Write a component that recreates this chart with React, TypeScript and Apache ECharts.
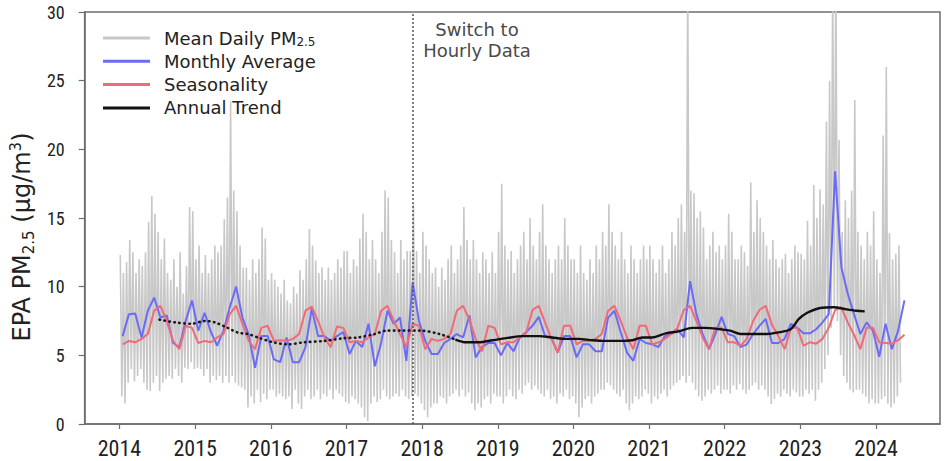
import React, { useEffect, useRef } from "react";
import * as echarts from "echarts";

// ---------- data ----------
const yearTicks = [2014, 2015, 2016, 2017, 2018, 2019, 2020, 2021, 2022, 2023, 2024];

// Daily PM2.5, summarised as one high and one low per half-month (2014-01 .. 2024-04)
const dailyHigh = [
  // 2014
  12.3, 11.0, 11.8, 13.4, 12.5, 11.0, 12.0, 11.5, 12.5, 14.7, 16.6, 15.3, 14.0, 12.0, 13.5, 11.0, 10.5, 12.0, 10.0, 12.5, 9.5, 11.5, 15.8, 15.5,
  // 2015
  12.0, 13.0, 11.0, 12.3, 11.0, 12.0, 13.0, 12.5, 13.0, 14.9, 16.5, 23.5, 17.0, 15.5, 13.0, 11.4, 11.4, 10.5, 12.0, 11.0, 12.0, 14.3, 13.5, 10.5,
  // 2016
  11.0, 10.5, 10.0, 9.5, 10.5, 9.0, 8.8, 10.0, 9.5, 11.2, 10.5, 12.0, 14.2, 13.0, 11.9, 11.0, 11.4, 10.5, 11.4, 10.5, 11.0, 12.0, 11.4, 12.6,
  // 2017
  12.6, 11.0, 12.0, 11.5, 13.5, 15.3, 14.0, 12.0, 13.4, 12.0, 11.0, 14.0, 17.0, 16.5, 13.4, 12.5, 11.0, 13.4, 12.0, 12.6, 12.6, 16.0, 12.6, 11.0,
  // 2018
  14.0, 13.0, 12.0, 11.0, 11.4, 10.0, 11.4, 10.5, 12.0, 13.0, 11.0, 12.0, 13.0, 15.8, 13.4, 12.0, 13.4, 12.0, 11.0, 12.5, 12.0, 11.0, 12.5, 11.0,
  // 2019
  14.0, 17.5, 13.0, 12.0, 12.6, 11.0, 12.0, 13.0, 14.0, 12.0, 15.0, 13.0, 12.0, 14.0, 16.0, 13.0, 12.0, 11.0, 12.0, 13.0, 12.0, 15.0, 13.0, 12.0,
  // 2020
  12.0, 11.0, 13.0, 11.0, 10.5, 12.0, 11.0, 13.0, 12.0, 14.0, 13.0, 16.0, 14.0, 13.0, 12.0, 14.0, 12.0, 11.0, 13.0, 12.0, 11.0, 12.0, 13.0, 12.0,
  // 2021
  13.0, 12.0, 11.0, 12.0, 13.0, 11.0, 12.0, 14.0, 13.0, 15.0, 16.0, 14.0, 33.0, 17.0, 16.8, 15.0, 15.5, 14.3, 12.0, 13.0, 14.0, 12.5, 13.0, 12.0,
  // 2022
  13.0, 15.3, 14.0, 12.0, 12.0, 13.0, 12.5, 11.5, 17.6, 14.0, 16.3, 15.0, 14.0, 13.0, 12.0, 13.4, 12.0, 11.4, 12.0, 12.4, 11.0, 12.0, 13.0, 12.5,
  // 2023
  12.4, 12.0, 14.8, 13.0, 17.4, 15.0, 17.1, 16.0, 22.0, 25.0, 33.0, 33.0, 20.7, 14.0, 16.3, 15.0, 17.0, 23.6, 14.0, 13.0, 12.0, 14.0, 13.0, 15.5,
  // 2024
  12.0, 11.0, 21.0, 26.0, 13.9, 12.0, 12.4, 13.0,
];
const dailyLow = [
  // 2014
  2.0, 1.5, 3.0, 4.0, 3.1, 3.5, 4.0, 3.0, 2.5, 2.4, 3.0, 3.5, 2.4, 3.0, 3.3, 3.5, 3.3, 4.0, 3.5, 3.0, 4.1, 4.0, 4.5, 4.0,
  // 2015
  4.1, 4.0, 3.5, 4.0, 3.0, 3.5, 3.2, 3.5, 3.0, 3.5, 3.0, 3.5, 3.0, 2.8, 2.65, 2.5, 1.2, 2.0, 1.5, 2.5, 1.6, 2.2, 1.8, 2.5,
  // 2016
  2.5, 2.0, 2.2, 2.0, 1.8, 2.0, 1.1, 2.5, 1.5, 1.1, 2.0, 2.5, 1.8, 2.0, 2.5, 1.8, 2.2, 2.0, 2.5, 1.8, 2.5, 2.2, 2.0, 1.6,
  // 2017
  1.5, 2.0, 1.8, 1.5, 1.2, 0.5, 0.2, 1.5, 2.0, 1.6, 1.8, 2.5, 2.0, 1.8, 2.0, 2.2, 2.0, 2.5, 2.0, 1.8, 2.0, 2.2, 2.0, 1.5,
  // 2018
  1.0, 0.5, 1.2, 1.5, 1.5, 2.0, 1.9, 1.5, 2.0, 2.2, 2.5, 2.0, 2.5, 2.0, 2.3, 1.5, 1.0, 1.5, 1.2, 1.8, 2.0, 1.5, 2.2, 2.0,
  // 2019
  2.0, 1.5, 2.0, 2.5, 2.0, 1.8, 2.5, 2.2, 2.8, 3.0, 2.5, 2.8, 2.5, 2.2, 2.0, 2.5, 1.8, 2.0, 1.5, 2.2, 2.0, 2.5, 1.8, 2.0,
  // 2020
  1.5, 0.5, 1.2, 1.8, 2.0, 1.5, 2.0, 2.2, 2.5, 2.5, 3.0, 2.8, 2.5, 2.2, 2.0, 2.5, 1.5, 1.0, 1.5, 2.0, 1.8, 2.0, 2.5, 2.2,
  // 2021
  1.5, 2.0, 1.8, 2.2, 2.5, 2.0, 2.5, 2.8, 3.0, 3.2, 3.5, 3.0, 3.5, 3.0, 2.5, 2.0, 1.7, 2.0, 2.5, 2.2, 2.5, 2.8, 2.2, 2.5,
  // 2022
  2.5, 2.2, 2.8, 2.5, 2.9, 2.5, 2.2, 2.5, 2.8, 3.0, 2.5, 2.8, 2.5, 2.0, 1.45, 1.8, 2.2, 2.0, 2.5, 2.2, 2.0, 2.5, 2.3, 2.0,
  // 2023
  2.0, 2.5, 2.2, 2.5, 1.7, 2.5, 3.0, 4.0, 5.0, 7.0, 8.5, 7.5, 5.0, 3.5, 3.0, 2.5, 2.3, 2.5, 2.5, 2.2, 2.0, 1.5, 1.8, 1.5,
  // 2024
  1.5, 1.8, 2.0, 1.5, 1.2, 1.5, 2.0, 3.0,
];

// Monthly average, 2014-01 .. 2024-05
const monthlyAverage = [
  6.4, 8.0, 8.05, 6.3, 8.25, 9.2, 7.75, 7.9, 5.9, 5.6, 7.5, 9.0,
  6.8, 8.1, 6.7, 5.7, 6.8, 8.5, 10.0, 7.75, 6.5, 4.1, 6.4, 6.4,
  4.7, 4.5, 6.3, 4.5, 4.5, 5.6, 8.4, 6.4, 6.4, 6.05, 6.4, 6.7,
  5.1, 6.05, 5.6, 7.3, 4.2, 5.9, 8.25, 7.3, 7.75, 4.6, 10.3, 7.5,
  6.05, 5.1, 5.1, 5.9, 6.2, 6.55, 6.3, 7.9, 4.85, 5.6, 5.9, 5.9,
  5.0, 5.9, 5.3, 6.3, 6.7, 7.15, 7.8, 6.4, 6.3, 5.2, 6.4, 6.4,
  4.85, 5.8, 5.8, 5.3, 5.3, 7.75, 8.25, 6.7, 5.2, 4.6, 6.2, 5.9,
  5.8, 5.6, 6.4, 6.55, 6.9, 6.3, 10.4, 8.0, 6.55, 5.45, 6.55, 7.8,
  6.55, 6.4, 5.6, 5.8, 6.55, 7.15, 7.65, 5.9, 5.9, 6.2, 7.3, 7.0,
  6.6, 6.6, 6.9, 7.4, 8.0, 18.4, 11.4, 9.5, 8.0, 6.55, 7.4, 6.8,
  4.9, 7.3, 5.45, 6.8, 9.0,
];

// Seasonality, 2014-01 .. 2024-05
const seasonality = [
  5.8, 6.05, 5.95, 6.2, 6.55, 8.25, 8.6, 7.5, 6.05, 5.45, 7.15, 7.0,
  5.9, 6.05, 5.95, 6.3, 6.55, 8.0, 8.6, 7.3, 6.05, 5.45, 7.0, 7.15,
  6.05, 6.1, 6.05, 6.2, 6.55, 8.25, 8.55, 7.5, 6.3, 5.6, 7.1, 7.0,
  5.95, 6.05, 5.95, 6.3, 6.55, 8.25, 8.6, 7.5, 6.55, 5.6, 7.3, 7.15,
  5.45, 6.2, 6.05, 6.2, 6.55, 8.25, 8.6, 7.6, 6.2, 5.3, 7.15, 7.0,
  5.8, 5.95, 5.95, 6.3, 6.6, 8.3, 8.6, 7.4, 6.2, 5.2, 7.15, 7.15,
  5.8, 6.05, 6.05, 6.2, 6.55, 8.25, 8.6, 7.5, 6.3, 5.45, 7.15, 7.15,
  5.8, 5.95, 6.2, 6.55, 7.0, 8.3, 8.6, 7.5, 6.3, 5.45, 7.0, 7.0,
  5.95, 5.95, 5.7, 6.2, 7.5, 8.3, 8.6, 7.2, 6.4, 5.45, 7.0, 7.0,
  5.7, 5.95, 5.85, 6.2, 7.0, 8.3, 8.5, 7.4, 6.5, 5.45, 7.0, 7.0,
  5.95, 5.9, 5.85, 6.1, 6.5,
];

// Annual trend: dotted part (daily-average era) and solid part (hourly era)
const trendEarlyYears = [2014.53, 2014.73, 2014.95, 2015.13, 2015.26, 2015.43, 2015.57, 2015.7, 2015.83, 2016.03, 2016.23, 2016.44, 2016.71, 2016.97, 2017.15, 2017.37, 2017.54, 2017.72, 2017.98, 2018.23, 2018.44];
const trendEarlyValues = [7.6, 7.4, 7.3, 7.5, 7.4, 7.0, 6.65, 6.55, 6.3, 5.95, 5.8, 5.95, 6.05, 6.25, 6.3, 6.55, 6.8, 6.8, 6.8, 6.55, 6.15];
const trendLateYears = [2018.44, 2018.58, 2018.75, 2018.93, 2019.11, 2019.33, 2019.55, 2019.72, 2019.9, 2020.07, 2020.25, 2020.42, 2020.6, 2020.78, 2020.91, 2021.04, 2021.22, 2021.39, 2021.57, 2021.74, 2021.94, 2022.07, 2022.21, 2022.38, 2022.56, 2022.69, 2022.87, 2022.98, 2023.09, 2023.26, 2023.44, 2023.61, 2023.74, 2023.85];
const trendLateValues = [6.15, 5.95, 5.95, 6.1, 6.25, 6.4, 6.4, 6.3, 6.2, 6.2, 6.1, 6.05, 6.05, 6.1, 6.3, 6.3, 6.6, 6.75, 7.0, 7.0, 6.9, 6.8, 6.55, 6.55, 6.55, 6.65, 6.9, 7.65, 8.1, 8.45, 8.5, 8.35, 8.25, 8.2];

const switchYear = 2017.88;
const seriesNames = ["Mean Daily PM2.5", "Monthly Average", "Seasonality", "Annual Trend"];

export default function App() {
  const ref = useRef<HTMLDivElement>(null);

  useEffect(() => {
    if (!ref.current) return;
    const chart = echarts.init(ref.current, null, { renderer: "svg" });

    const daily: number[][] = [];
    dailyHigh.forEach((hi, h) => {
      daily.push([2014 + (h + 0.25) / 24, hi]);
      daily.push([2014 + (h + 0.75) / 24, dailyLow[h]]);
    });
    const monthly = monthlyAverage.map((v, k) => [2014 + (k + 0.5) / 12, v]);
    const seasonal = seasonality.map((v, k) => [2014 + (k + 0.5) / 12, v]);
    const trendEarly = trendEarlyYears.map((y, i) => [y, trendEarlyValues[i]]);
    const trendLate = trendLateYears.map((y, i) => [y, trendLateValues[i]]);

    const labelFont = "'Liberation Sans Narrow', 'Roboto Condensed', 'Liberation Sans', sans-serif";
    const textFont = "'DejaVu Sans', sans-serif";

    chart.setOption({
      animation: false,
      backgroundColor: "#ffffff",
      grid: {
        left: 83,
        right: 6,
        top: 12,
        bottom: 37,
        show: true,
        borderColor: "#6e6e6e",
        borderWidth: 1.5,
        backgroundColor: "transparent",
      },
      legend: {
        show: true,
        orient: "vertical",
        left: 103,
        top: 28,
        padding: 0,
        data: seriesNames,
        icon: "rect",
        itemWidth: 47,
        itemHeight: 3,
        itemGap: 3.3,
        selectedMode: false,
        formatter: (name: string) =>
          name === "Mean Daily PM2.5" ? "{a|Mean Daily PM}{s|2.5}" : "{a|" + name + "}",
        textStyle: {
          color: "#222",
          fontFamily: textFont,
          fontSize: 18,
          lineHeight: 20,
          padding: [0, 0, 0, 9],
          rich: {
            a: { fontSize: 18, lineHeight: 20, fontFamily: textFont, color: "#222" },
            s: { fontSize: 12, lineHeight: 12, fontFamily: textFont, color: "#222", verticalAlign: "bottom" },
          },
        },
      },
      xAxis: {
        type: "value",
        min: 2013.54,
        max: 2024.845,
        splitLine: { show: false },
        axisLine: { show: true, onZero: false, lineStyle: { color: "#6e6e6e", width: 1.5 } },
        axisTick: {
          show: true,
          length: 5,
          lineStyle: { color: "#6e6e6e", width: 1.2 },
          customValues: yearTicks,
        },
        axisLabel: {
          customValues: yearTicks,
          color: "#222",
          fontFamily: labelFont,
          fontSize: 22,
          margin: 13,
          formatter: (v: number) => String(Math.round(v)),
        },
      },
      yAxis: {
        type: "value",
        min: 0,
        max: 30,
        interval: 5,
        splitLine: { show: false },
        axisLine: { show: true, lineStyle: { color: "#6e6e6e", width: 1.5 } },
        axisTick: { show: true, length: 6, lineStyle: { color: "#6e6e6e", width: 1.2 } },
        axisLabel: {
          color: "#222",
          fontFamily: labelFont,
          fontSize: 18,
          margin: 20,
        },
        name: "{a|EPA PM}{s|2.5}{a| (µg/m}{p|3}{a|)}",
        nameLocation: "middle",
        nameRotate: 90,
        nameGap: 45,
        nameTextStyle: {
          color: "#222",
          fontFamily: textFont,
          fontSize: 24,
          padding: [0, 38, 0, 0],
          rich: {
            a: { fontSize: 24, lineHeight: 28, fontFamily: textFont, color: "#222" },
            s: { fontSize: 15, lineHeight: 15, fontFamily: textFont, color: "#222", verticalAlign: "bottom" },
            p: { fontSize: 15, lineHeight: 15, fontFamily: textFont, color: "#222", verticalAlign: "top" },
          },
        },
      },
      graphic: [
        {
          type: "text",
          x: 477,
          y: 19,
          style: {
            text: "Switch to\nHourly Data",
            fill: "#4a4a4a",
            font: "18px 'DejaVu Sans', sans-serif",
            align: "center",
            verticalAlign: "top",
            lineHeight: 21,
          },
        },
      ],
      series: [
        {
          name: "Mean Daily PM2.5",
          type: "line",
          data: daily,
          showSymbol: false,
          symbol: "none",
          color: "#c8c8c8",
          lineStyle: { color: "#c8c8c8", width: 1.6 },
          z: 1,
          markLine: {
            silent: true,
            symbol: "none",
            label: { show: false },
            lineStyle: { color: "#555", width: 1.5, type: [2, 2] },
            data: [{ xAxis: switchYear }],
          },
        },
        {
          name: "Monthly Average",
          type: "line",
          data: monthly,
          showSymbol: false,
          symbol: "none",
          color: "#6b6bf7",
          lineStyle: { color: "#6b6bf7", width: 2 },
          z: 2,
        },
        {
          name: "Seasonality",
          type: "line",
          data: seasonal,
          showSymbol: false,
          symbol: "none",
          color: "#f06a78",
          lineStyle: { color: "#f06a78", width: 2 },
          z: 3,
        },
        {
          name: "Annual Trend (early)",
          type: "line",
          data: trendEarly,
          showSymbol: false,
          symbol: "none",
          smooth: 0.3,
          color: "#1a1a1a",
          lineStyle: { color: "#1a1a1a", width: 2.6, type: [0.5, 4.5], cap: "round" },
          z: 4,
        },
        {
          name: "Annual Trend",
          type: "line",
          data: trendLate,
          showSymbol: false,
          symbol: "none",
          smooth: 0.3,
          color: "#111111",
          lineStyle: { color: "#111111", width: 2.4 },
          z: 4,
        },
      ],
    });

    return () => chart.dispose();
  }, []);

  return (
    <div
      ref={ref}
      style={{ position: "fixed", left: 0, top: 0, width: 946, height: 461, background: "#fff" }}
    />
  );
}
